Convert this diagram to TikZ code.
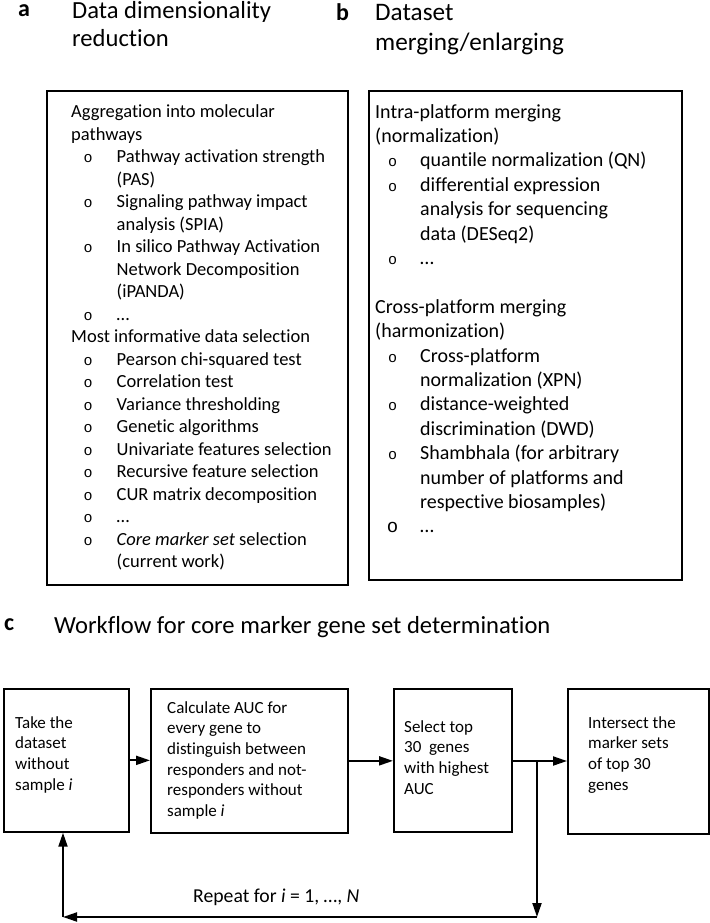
\documentclass[tikz,border=0pt]{standalone}
\usepackage{fontspec}
\setmainfont{Carlito}[Ligatures=NoCommon]
\newfontfamily\bulletfont{Liberation Mono}
\usetikzlibrary{arrows.meta}
\newcommand\lns[1]{\parbox[t]{400pt}{\raggedright #1}}
\tikzset{
  boxc/.style={draw, line width=1.7pt, inner sep=0pt, anchor=north west},
  ta/.style={anchor=base west, inner sep=0pt, font=\fontsize{18.5}{22.5}\selectfont},
  tb/.style={anchor=base west, inner sep=0pt, font=\fontsize{20}{24.4}\selectfont},
  tc/.style={anchor=base west, inner sep=0pt, font=\fontsize{17}{20.7}\selectfont},
  ttl/.style={anchor=base west, inner sep=0pt, font=\fontsize{24.6}{28}\selectfont},
  lbl/.style={anchor=base west, inner sep=0pt, font=\bfseries\fontsize{24}{28}\selectfont},
  bul/.style={anchor=base, inner sep=0pt, font=\bulletfont\fontsize{15}{15}\selectfont},
  bulbig/.style={anchor=base, inner sep=0pt, font=\bulletfont\fontsize{19}{19}\selectfont},
  arr/.style={line width=2pt, -{Triangle[length=14pt,width=9pt]}},
}
\begin{document}
\begin{tikzpicture}[x=1pt,y=-1pt]
\useasboundingbox (0,0) rectangle (709,923);
% ---------- titles ----------
\node[lbl] (la) at (18,17) {a};
\node[ttl] (ta) at (72,18.5) {\lns{Data dimensionality\\reduction}};
\node[lbl] (lb) at (336,20.5) {b};
\node[ttl, font=\fontsize{25.2}{30}\selectfont] (tbt) at (375,20.5) {\lns{Dataset\\merging/enlarging}};
\node[lbl] (lc) at (4,630) {c};
\node[ttl] (tct) at (54,633) {Workflow for core marker gene set determination};
% ---------- box a ----------
\node[boxc, minimum width=301pt, minimum height=494pt] (boxa) at (46,90) {};
\node[ta] (a0) at (71,117.5) {\lns{Aggregation into molecular\\pathways}};
\node[bul] (ab1) at (88,162.5) {o};
\node[ta] (a1) at (116.5,162.5) {\lns{Pathway activation strength\\(PAS)}};
\node[bul] (ab2) at (88,207.5) {o};
\node[ta] (a2) at (116.5,207.5) {\lns{Signaling pathway impact\\analysis (SPIA)}};
\node[bul] (ab3) at (88,252.5) {o};
\node[ta] (a3) at (116.5,252.5) {\lns{In silico Pathway Activation\\Network Decomposition\\(iPANDA)}};
\node[bul] (ab4) at (88,320) {o};
\node[ta] (a4) at (116.5,320) {…};
\node[ta] (a5) at (71,342.5) {Most informative data selection};
\node[bul] (ab6) at (88,365) {o};
\node[ta] (a6) at (116.5,365) {Pearson chi-squared test};
\node[bul] (ab7) at (88,387.5) {o};
\node[ta] (a7) at (116.5,387.5) {Correlation test};
\node[bul] (ab8) at (88,410) {o};
\node[ta] (a8) at (116.5,410) {Variance thresholding};
\node[bul] (ab9) at (88,432.5) {o};
\node[ta] (a9) at (116.5,432.5) {Genetic algorithms};
\node[bul] (ab10) at (88,455) {o};
\node[ta] (a10) at (116.5,455) {Univariate features selection};
\node[bul] (ab11) at (88,477.5) {o};
\node[ta] (a11) at (116.5,477.5) {Recursive feature selection};
\node[bul] (ab12) at (88,500) {o};
\node[ta] (a12) at (116.5,500) {CUR matrix decomposition};
\node[bul] (ab13) at (88,522.5) {o};
\node[ta] (a13) at (116.5,522.5) {…};
\node[bul] (ab14) at (88,545) {o};
\node[ta] (a14) at (116.5,545) {\lns{\textit{Core marker set} selection\\(current work)}};
% ---------- box b ----------
\node[boxc, minimum width=313pt, minimum height=489pt] (boxb) at (368,90) {};
\node[tb] (b0) at (375,118) {\lns{Intra-platform merging\\(normalization)}};
\node[bul] (bb1) at (392.5,166.8) {o};
\node[tb] (b1) at (420,166.8) {quantile normalization (QN)};
\node[bul] (bb2) at (392.5,191.2) {o};
\node[tb] (b2) at (420,191.2) {\lns{differential expression\\analysis for sequencing\\data (DESeq2)}};
\node[bul] (bb3) at (392.5,264.4) {o};
\node[tb] (b3) at (420,264.4) {…};
\node[tb] (b4) at (375,313.2) {\lns{Cross-platform merging\\(harmonization)}};
\node[bul] (bb5) at (392.5,362) {o};
\node[tb] (b5) at (420,362) {\lns{Cross-platform\\normalization (XPN)}};
\node[bul] (bb6) at (392.5,410.8) {o};
\node[tb] (b6) at (420,410.8) {\lns{distance-weighted\\discrimination (DWD)}};
\node[bul] (bb7) at (392.5,459.6) {o};
\node[tb] (b7) at (420,459.6) {\lns{Shambhala (for arbitrary\\number of platforms and\\respective biosamples)}};
\node[bulbig] (bb8) at (392.5,532.8) {o};
\node[tb] (b8) at (420,532.8) {…};
% ---------- panel c ----------
\node[boxc, minimum width=125pt, minimum height=143pt] (c1) at (3,688) {};
\node[boxc, minimum width=197pt, minimum height=144pt] (c2) at (150,688) {};
\node[boxc, minimum width=118pt, minimum height=143pt] (c3) at (393,688) {};
\node[boxc, minimum width=141pt, minimum height=145pt] (c4) at (567,688) {};
\node[tc] (c1t) at (15,728) {\lns{Take the\\dataset\\without\\sample \textit{i}}};
\node[tc] (c2t) at (167,713) {\lns{Calculate AUC for\\every gene to\\distinguish between\\responders and not-\\responders without\\sample \textit{i}}};
\node[tc] (c3t) at (404,732) {\lns{Select top\\30\ \ genes\\with highest\\AUC}};
\node[tc] (c4t) at (588,728) {\lns{Intersect the\\marker sets\\of top 30\\genes}};
\node[anchor=base west, inner sep=0pt, font=\fontsize{19.7}{23}\selectfont] (rep) at (193,902) {Repeat for \textit{i} = 1, …, \textit{N}};
\coordinate (split) at (537,761);
\coordinate (cr) at (537,917);
\coordinate (cl) at (63,917);
\draw[arr] (c1.east) -- (c1.east -| c2.west);
\draw[arr] (c2.east) -- (c2.east -| c3.west);
\draw[arr] (c3.east |- split) -- (c4.west |- split);
\draw[arr] (split) -- (cr);
\draw[arr] (cr) -- (cl);
\draw[arr] (cl) -- (cl |- c1.south);
\end{tikzpicture}
\end{document}
